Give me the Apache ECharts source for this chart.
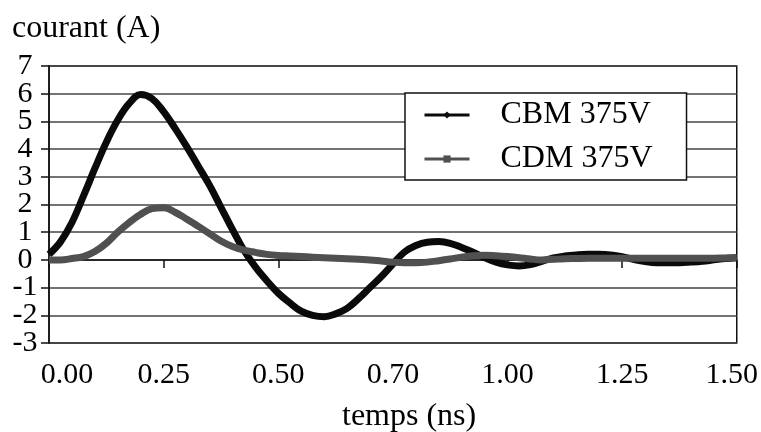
<!DOCTYPE html>
<html>
<head>
<meta charset="utf-8">
<script src="https://cdn.jsdelivr.net/npm/echarts@6/dist/echarts.min.js"></script>
<style>
html,body{margin:0;padding:0;background:#fff;}
#c{width:761px;height:432px;}
</style>
</head>
<body>
<div id="c"></div>
<script>
var times = [0,0.025,0.05,0.075,0.1,0.125,0.15,0.175,0.2,0.225,0.25,0.275,0.3,0.325,0.35,0.375,0.4,0.425,0.45,0.475,0.5,0.525,0.55,0.575,0.6,0.625,0.65,0.675,0.7,0.725,0.75,0.775,0.8,0.825,0.85,0.875,0.9,0.925,0.95,0.975,1.0,1.025,1.05,1.075,1.1,1.125,1.15,1.175,1.2,1.225,1.25,1.275,1.3,1.325,1.35,1.375,1.4,1.425,1.45,1.475,1.5];
var cbm = [0.2,0.65,1.35,2.3,3.3,4.25,5.05,5.65,5.97,5.82,5.35,4.75,4.1,3.4,2.7,1.9,1.1,0.35,-0.25,-0.75,-1.2,-1.55,-1.85,-2.0,-2.05,-1.95,-1.75,-1.4,-1.0,-0.6,-0.15,0.28,0.52,0.64,0.66,0.6,0.45,0.28,0.08,-0.08,-0.18,-0.22,-0.17,-0.05,0.07,0.14,0.18,0.2,0.2,0.18,0.12,0.02,-0.06,-0.1,-0.1,-0.1,-0.08,-0.05,0.0,0.05,0.08];
var cdm = [0.0,0.0,0.05,0.12,0.3,0.6,1.0,1.35,1.65,1.85,1.88,1.72,1.48,1.22,0.95,0.68,0.48,0.35,0.27,0.2,0.16,0.14,0.12,0.1,0.08,0.06,0.04,0.02,0.0,-0.04,-0.08,-0.1,-0.1,-0.08,-0.03,0.03,0.1,0.15,0.17,0.15,0.12,0.08,0.03,0.0,0.02,0.04,0.05,0.06,0.06,0.06,0.06,0.06,0.06,0.06,0.06,0.06,0.06,0.06,0.06,0.07,0.08];
var xTickLabels = ['0.00','0.25','0.50','0.70','1.00','1.25','1.50'];
var yTickLabels = ['-3','-2','-1','0','1','2','3','4','5','6','7'];
var seriesNames = ['CBM 375V','CDM 375V'];
var yTitle = 'courant (A)';
var xTitle = 'temps (ns)';

var FONT = "'Liberation Serif','DejaVu Serif',serif";
function pairs(vals){ return times.map(function(t,i){ return [t, vals[i]]; }); }
// two overlapping y axes share the labels (even / odd) so that none get hidden
function yFmt(parity){
  return function(v){
    var i = Math.round(v + 3);
    return (i % 2 === parity) ? yTickLabels[i] : '';
  };
}
var yLabelStyle = {margin: 24, align: 'center', color: '#000', fontFamily: FONT, fontSize: 30,
  showMinLabel: true, showMaxLabel: true, hideOverlap: false};

var chart = echarts.init(document.getElementById('c'), null, {renderer:'canvas'});
chart.setOption({
  animation: false,
  backgroundColor: '#fff',
  grid: {left: 49, right: 24, top: 66, bottom: 89, show: true, borderColor: '#111', borderWidth: 1.5, backgroundColor: 'transparent'},
  xAxis: {
    type: 'value', min: 0, max: 1.5, interval: 0.25,
    axisLine: {show: true, lineStyle: {color: '#111', width: 1.5}},
    axisTick: {show: true, length: 8, inside: false, lineStyle: {color: '#111', width: 1.5}},
    splitLine: {show: false},
    axisLabel: {
      margin: 17, color: '#000', fontFamily: FONT, fontSize: 30,
      showMinLabel: true, showMaxLabel: true, hideOverlap: false,
      formatter: function(v){
        var i = Math.round(v / 0.25);
        var s = xTickLabels[i];
        if (i === 0) return '{first|' + s + '}';
        if (i === xTickLabels.length - 1) return '{last|' + s + '}';
        return s;
      },
      rich: {
        first: {padding: [0,0,0,36], fontFamily: FONT, fontSize: 30, color: '#000'},
        last: {padding: [0,10,0,0], fontFamily: FONT, fontSize: 30, color: '#000'}
      }
    }
  },
  yAxis: [
    {
      type: 'value', min: -3, max: 7, interval: 1, position: 'left',
      axisLine: {show: true, lineStyle: {color: '#111', width: 1.5}},
      axisTick: {show: true, length: 8, lineStyle: {color: '#111', width: 1.5}},
      splitLine: {show: true, lineStyle: {color: '#444', width: 1.5}},
      axisLabel: Object.assign({formatter: yFmt(0)}, yLabelStyle)
    },
    {
      type: 'value', min: -3, max: 7, interval: 1, position: 'left', offset: 0,
      axisLine: {show: false}, axisTick: {show: false}, splitLine: {show: false},
      axisLabel: Object.assign({formatter: yFmt(1)}, yLabelStyle)
    }
  ],
  legend: {
    orient: 'vertical', left: 405, top: 93,
    padding: [6, 34, 5, 18], itemGap: 12,
    itemWidth: 45, itemHeight: 9,
    backgroundColor: '#fff', borderColor: '#111', borderWidth: 1.5,
    lineStyle: {width: 3},
    textStyle: {fontFamily: FONT, fontSize: 32, color: '#000', padding: [0,0,0,26]},
    data: seriesNames
  },
  graphic: [
    {type: 'text', left: 12, top: 13, style: {text: yTitle, font: '32px ' + FONT, fill: '#000'}},
    {type: 'text', left: 342, top: 401, style: {text: xTitle, font: '32px ' + FONT, fill: '#000'}}
  ],
  series: [
    {name: seriesNames[0], type: 'line', data: pairs(cbm), smooth: 0.4, showSymbol: false,
     symbol: 'diamond', symbolSize: 8, yAxisIndex: 0,
     lineStyle: {color: '#0a0a0a', width: 7}, itemStyle: {color: '#0a0a0a'}, z: 3},
    {name: seriesNames[1], type: 'line', data: pairs(cdm), smooth: 0.4, showSymbol: false,
     symbol: 'rect', symbolSize: 7, yAxisIndex: 0,
     lineStyle: {color: '#505050', width: 7}, itemStyle: {color: '#505050'}, z: 4}
  ]
});
</script>
</body>
</html>
